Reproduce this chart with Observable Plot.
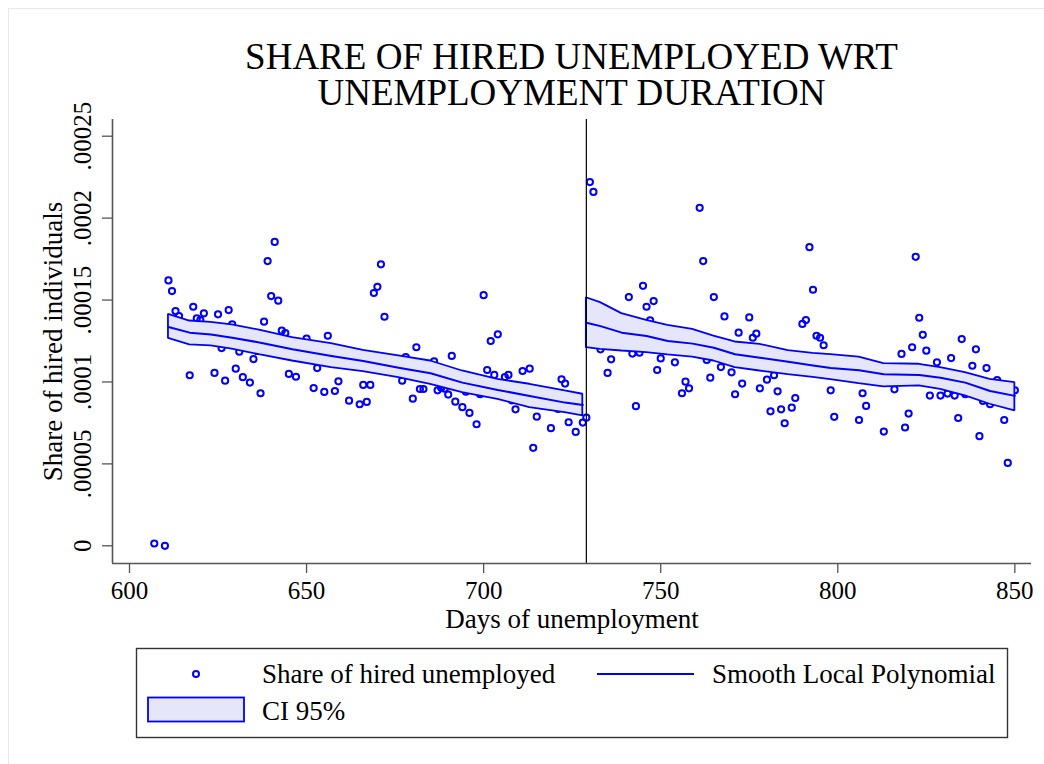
<!DOCTYPE html>
<html>
<head>
<meta charset="utf-8">
<script src="https://cdn.jsdelivr.net/npm/d3@7"></script>
<script src="https://cdn.jsdelivr.net/npm/@observablehq/plot@0.6"></script>
<style>
  html, body { margin: 0; padding: 0; background: #fff; }
  #wrap { position: relative; width: 1044px; height: 764px; background: #fff; overflow: hidden;
          font-family: "Liberation Serif", "Times New Roman", serif; color: #000; }
  #frame { position: absolute; left: 8px; top: 8px; width: 1040px; height: 760px;
           border-left: 1px solid #e4ebed; border-top: 1px solid #e4ebed; }
  #title { position: absolute; left: 112px; top: 39px; width: 919px; text-align: center; font-size: 37px; line-height: 36px; white-space: nowrap; }
  #plot { position: absolute; left: 0; top: 114px; }
  #legend { position: absolute; left: 0; top: 640px; }
</style>
</head>
<body>
<div id="wrap">
  <div id="frame"></div>
  <div id="title"></div>
  <div id="plot"></div>
  <div id="legend"></div>
</div>
<script>
// ---------- data ----------
const titleLines = ["SHARE OF HIRED UNEMPLOYED WRT", "UNEMPLOYMENT DURATION"];
const xLabel = "Days of unemployment";
const yLabel = "Share of hired individuals";
const xTicks = [600, 650, 700, 750, 800, 850];
const yTicks = [0, 0.00005, 0.0001, 0.00015, 0.0002, 0.00025];
const yTickLabels = ["0", ".00005", ".0001", ".00015", ".0002", ".00025"];
const xDomain = [595.2, 854.7];
const yDomain = [-0.0000108, 0.0002602];
const cutoffDay = 729;
const legendLabels = ["Share of hired unemployed", "Smooth Local Polynomial", "CI 95%"];

// observed shares, left of cutoff (day, share)
const leftDays = [607,610,611,612,613,614,617,618,619,620,621,624,625,626,627,628,629,630,631,632,634,635,636,637,638,639,640,641,642,643,644,645,647,650,652,653,655,656,658,659,662,665,666,667,668,669,670,671,672,677,678,680,681,682,683,686,687,688,689,690,691,692,694,695,696,698,699,700,701,702,703,704,706,707,708,709,711,713,714,715,716,719,721,722,723,724,726,728,729];
const leftShare = [0.14e-5,0.0e-5,16.2e-5,15.55e-5,14.33e-5,14.02e-5,10.41e-5,14.59e-5,13.88e-5,13.78e-5,14.19e-5,10.55e-5,14.13e-5,12.07e-5,10.08e-5,14.39e-5,13.52e-5,10.81e-5,11.85e-5,10.29e-5,9.96e-5,11.4e-5,11.89e-5,9.31e-5,13.68e-5,17.38e-5,15.24e-5,18.55e-5,14.96e-5,13.13e-5,12.99e-5,10.49e-5,10.32e-5,12.64e-5,9.63e-5,10.85e-5,9.39e-5,12.82e-5,9.45e-5,10.04e-5,8.86e-5,8.64e-5,9.82e-5,8.78e-5,9.82e-5,15.43e-5,15.81e-5,17.18e-5,13.98e-5,10.08e-5,11.52e-5,8.98e-5,12.12e-5,9.57e-5,9.57e-5,11.26e-5,9.49e-5,9.65e-5,9.59e-5,9.23e-5,11.59e-5,8.8e-5,8.46e-5,9.41e-5,8.11e-5,7.42e-5,9.25e-5,15.3e-5,10.73e-5,12.5e-5,10.43e-5,12.91e-5,10.3e-5,10.43e-5,8.88e-5,8.33e-5,10.67e-5,10.81e-5,5.98e-5,7.88e-5,8.58e-5,7.18e-5,8.35e-5,10.16e-5,9.9e-5,7.54e-5,6.95e-5,7.52e-5,7.82e-5];

// observed shares, right of cutoff
const rightDays = [730,731,733,735,736,741,742,743,744,745,746,747,748,749,750,754,756,757,758,761,762,763,764,765,767,768,770,771,772,773,775,776,777,778,780,781,782,783,784,785,787,788,790,791,792,793,794,795,796,798,799,806,807,808,813,816,818,819,820,821,822,823,824,825,826,828,829,831,832,833,834,835,836,838,839,840,841,842,843,845,847,848,850];
const rightShare = [22.2e-5,21.6e-5,11.99e-5,10.55e-5,11.38e-5,15.18e-5,11.73e-5,8.52e-5,11.79e-5,15.87e-5,14.59e-5,13.76e-5,14.94e-5,10.73e-5,11.44e-5,11.2e-5,9.31e-5,10.02e-5,9.61e-5,20.63e-5,17.38e-5,11.34e-5,10.26e-5,15.18e-5,10.91e-5,14.0e-5,10.59e-5,9.25e-5,13.01e-5,9.9e-5,13.94e-5,12.7e-5,12.95e-5,9.61e-5,10.14e-5,8.21e-5,10.41e-5,9.43e-5,8.33e-5,7.48e-5,8.43e-5,9.02e-5,13.54e-5,13.78e-5,18.23e-5,15.63e-5,12.82e-5,12.7e-5,12.24e-5,9.49e-5,7.87e-5,7.68e-5,9.31e-5,8.54e-5,6.97e-5,9.55e-5,11.71e-5,7.22e-5,8.07e-5,12.12e-5,17.64e-5,13.92e-5,12.88e-5,11.91e-5,9.17e-5,11.2e-5,9.17e-5,9.29e-5,11.46e-5,9.17e-5,7.8e-5,12.62e-5,9.25e-5,10.99e-5,11.99e-5,6.69e-5,8.84e-5,10.85e-5,8.64e-5,10.12e-5,7.68e-5,5.06e-5,9.49e-5];

// local polynomial fit and 95% CI, left of cutoff
const leftFitDays = [611,617,623,629,637,646,657,666,676,685,694,704,713,723,728];
const leftFit = [13.35e-5,13.01e-5,12.9e-5,12.7e-5,12.4e-5,12.0e-5,11.59e-5,11.28e-5,10.87e-5,10.53e-5,9.96e-5,9.51e-5,9.15e-5,8.74e-5,8.6e-5];
const leftLo  = [12.66e-5,12.26e-5,12.2e-5,12.0e-5,11.65e-5,11.28e-5,10.87e-5,10.63e-5,10.26e-5,9.86e-5,9.35e-5,8.94e-5,8.43e-5,8.13e-5,7.93e-5];
const leftHi  = [14.13e-5,13.72e-5,13.64e-5,13.48e-5,13.15e-5,12.7e-5,12.34e-5,11.93e-5,11.59e-5,11.28e-5,10.67e-5,10.16e-5,9.86e-5,9.45e-5,9.25e-5];

// local polynomial fit and 95% CI, right of cutoff
const rightFitDays = [729,733,739,746,752,759,765,771,778,786,793,798,806,813,823,829,836,843,850];
const rightFit = [13.62e-5,13.41e-5,13.01e-5,12.8e-5,12.5e-5,12.34e-5,12.09e-5,11.69e-5,11.48e-5,11.23e-5,11.0e-5,10.85e-5,10.71e-5,10.47e-5,10.43e-5,10.26e-5,9.96e-5,9.45e-5,9.15e-5];
const rightLo  = [12.09e-5,11.99e-5,11.89e-5,11.79e-5,11.65e-5,11.52e-5,11.28e-5,10.87e-5,10.67e-5,10.45e-5,10.28e-5,10.14e-5,9.9e-5,9.7e-5,9.76e-5,9.55e-5,9.15e-5,8.64e-5,8.23e-5];
const rightHi  = [15.14e-5,14.84e-5,14.17e-5,13.76e-5,13.46e-5,13.21e-5,12.8e-5,12.44e-5,12.3e-5,11.91e-5,11.75e-5,11.67e-5,11.52e-5,11.12e-5,11.08e-5,10.87e-5,10.57e-5,10.16e-5,9.96e-5];

// ---------- build tables ----------
const blue = "#0000ff";
const bandFill = "#e6e6fa";
const axisGray = "#555555";

document.getElementById("title").innerHTML = titleLines.join("<br>");

const points = leftDays.map((d, i) => ({day: d, share: leftShare[i]}))
  .concat(rightDays.map((d, i) => ({day: d, share: rightShare[i]})));
const leftBand = leftFitDays.map((d, i) => ({day: d, fit: leftFit[i], lo: leftLo[i], hi: leftHi[i]}));
const rightBand = rightFitDays.map((d, i) => ({day: d, fit: rightFit[i], lo: rightLo[i], hi: rightHi[i]}));

const chart = Plot.plot({
  width: 1044,
  height: 526,
  marginLeft: 112,
  marginRight: 13,
  marginTop: 5,
  marginBottom: 77,
  style: {fontFamily: "'Liberation Serif', 'Times New Roman', serif", fontSize: "25px", color: "#000", background: "transparent", overflow: "visible"},
  x: {domain: xDomain},
  y: {domain: yDomain},
  marks: [
    Plot.dot(points, {x: "day", y: "share", r: 3.1, stroke: blue, strokeWidth: 2, fill: "none"}),
    Plot.areaY(leftBand, {x: "day", y1: "lo", y2: "hi", fill: bandFill, stroke: blue, strokeWidth: 1.8, strokeLinejoin: "miter"}),
    Plot.areaY(rightBand, {x: "day", y1: "lo", y2: "hi", fill: bandFill, stroke: blue, strokeWidth: 1.8, strokeLinejoin: "miter"}),
    Plot.line(leftBand, {x: "day", y: "fit", stroke: blue, strokeWidth: 2}),
    Plot.line(rightBand, {x: "day", y: "fit", stroke: blue, strokeWidth: 2}),
    Plot.ruleX([cutoffDay], {stroke: "#000", strokeWidth: 1.2}),
    Plot.ruleX([xDomain[0]], {stroke: axisGray, strokeWidth: 1.6}),
    Plot.ruleY([yDomain[0]], {stroke: axisGray, strokeWidth: 1.6}),
    Plot.axisX({ticks: xTicks, tickSize: 10, tickPadding: 8, stroke: axisGray, strokeWidth: 1.3, fill: "#000", label: null}),
    Plot.axisX({ticks: [], tickSize: 0, fill: "#000", fontSize: 27,
      label: xLabel, labelAnchor: "center", labelOffset: 64, labelArrow: "none"}),
    Plot.axisY({ticks: yTicks, tickFormat: d => yTickLabels[yTicks.indexOf(d)], tickSize: 10, tickPadding: 12,
      tickRotate: -90, stroke: axisGray, strokeWidth: 1.3, fill: "#000", label: null}),
    Plot.axisY({ticks: [], tickSize: 0, fill: "#000", fontSize: 27,
      label: yLabel, labelAnchor: "center", labelOffset: 70, labelArrow: "none"})
  ]
});
document.getElementById("plot").appendChild(chart);

// ---------- legend (below the plot) ----------
const ns = "http://www.w3.org/2000/svg";
const lg = document.createElementNS(ns, "svg");
lg.setAttribute("width", 1044);
lg.setAttribute("height", 110);
lg.style.fontFamily = "'Liberation Serif', 'Times New Roman', serif";
function el(tag, attrs, text) {
  const e = document.createElementNS(ns, tag);
  for (const k in attrs) e.setAttribute(k, attrs[k]);
  if (text) e.textContent = text;
  lg.appendChild(e);
  return e;
}
el("rect", {x: 136.5, y: 8.5, width: 871, height: 89, fill: "#fff", stroke: "#333", "stroke-width": 1.4});
el("circle", {cx: 196, cy: 34, r: 3, fill: "none", stroke: blue, "stroke-width": 2});
el("text", {x: 262, y: 43, "font-size": 27}, legendLabels[0]);
el("line", {x1: 597, x2: 694, y1: 34, y2: 34, stroke: blue, "stroke-width": 2});
el("text", {x: 712, y: 43, "font-size": 27}, legendLabels[1]);
el("rect", {x: 148, y: 57.5, width: 96, height: 24, fill: bandFill, stroke: blue, "stroke-width": 1.8});
el("text", {x: 262, y: 80, "font-size": 27}, legendLabels[2]);
document.getElementById("legend").appendChild(lg);
</script>
</body>
</html>
